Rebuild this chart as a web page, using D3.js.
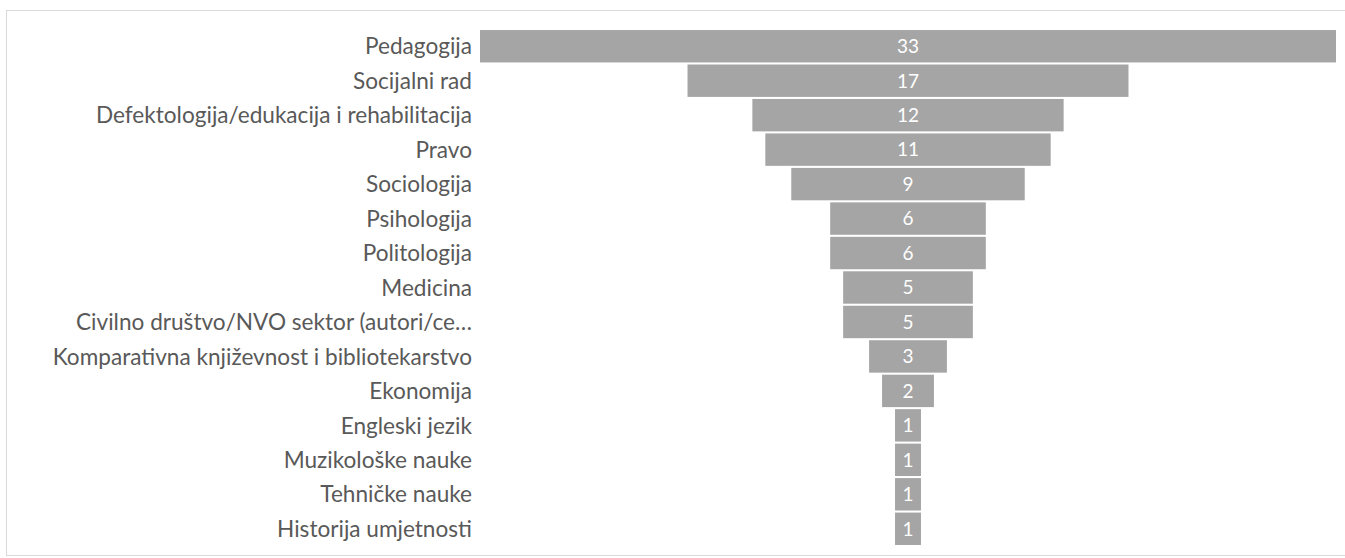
<!DOCTYPE html>
<html>
<head>
<meta charset="utf-8">
<script src="https://cdn.jsdelivr.net/npm/d3@7"></script>
<style>
  body { margin: 0; background: #fff; }
  text { font-family: Lato, "Open Sans", sans-serif; }
</style>
</head>
<body>
<div id="chart"></div>
<script>
const categories = [
    "Pedagogija",
    "Socijalni rad",
    "Defektologija/edukacija i rehabilitacija",
    "Pravo",
    "Sociologija",
    "Psihologija",
    "Politologija",
    "Medicina",
    "Civilno društvo/NVO sektor (autori/ce…",
    "Komparativna književnost i bibliotekarstvo",
    "Ekonomija",
    "Engleski jezik",
    "Muzikološke nauke",
    "Tehničke nauke",
    "Historija umjetnosti"
];
const counts = [33, 17, 12, 11, 9, 6, 6, 5, 5, 3, 2, 1, 1, 1, 1];

const W = 1345, H = 558;
const centerX = 908;

const svg = d3.select("#chart").append("svg")
    .attr("width", W)
    .attr("height", H);

// light frame round the chart area
svg.append("rect")
    .attr("x", 6.5).attr("y", 10.5)
    .attr("width", W + 10).attr("height", 545)
    .attr("fill", "none")
    .attr("stroke", "#d9d9d9");

const x = d3.scaleLinear().domain([0, 33]).range([0, 856]);
const y = d3.scaleBand()
    .domain(categories)
    .range([29, 546])
    .paddingInner(0.06)
    .paddingOuter(0.03);

const data = categories.map((c, i) => ({name: c, value: counts[i]}));

// category labels
svg.selectAll(".label")
    .data(data)
    .enter().append("text")
        .attr("class", "label")
        .attr("x", 472)
        .attr("y", d => y(d.name) + y.bandwidth() / 2)
        .attr("dy", "0.36em")
        .attr("text-anchor", "end")
        .attr("fill", "#595959")
        .style("font-size", "22.6px")
        .text(d => d.name);

// funnel bars, centred on one axis
svg.selectAll(".bar")
    .data(data)
    .enter().append("rect")
        .attr("class", "bar")
        .attr("x", d => centerX - x(d.value) / 2)
        .attr("y", d => y(d.name))
        .attr("width", d => x(d.value))
        .attr("height", y.bandwidth())
        .attr("fill", "#a5a5a5");

// value labels
svg.selectAll(".val")
    .data(data)
    .enter().append("text")
        .attr("class", "val")
        .attr("x", centerX)
        .attr("y", d => y(d.name) + y.bandwidth() / 2)
        .attr("dy", "0.36em")
        .attr("text-anchor", "middle")
        .attr("fill", "#ffffff")
        .style("font-size", "19px")
        .text(d => d.value);
</script>
</body>
</html>
